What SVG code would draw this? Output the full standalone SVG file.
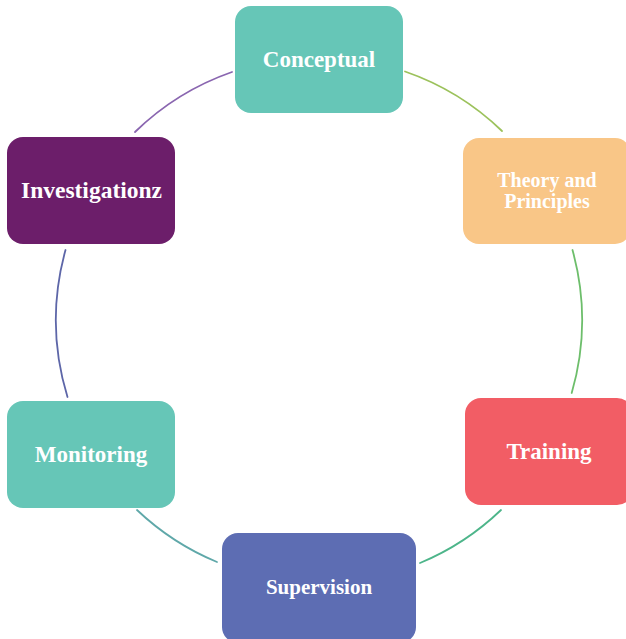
<svg xmlns="http://www.w3.org/2000/svg" width="626" height="639" viewBox="0 0 626 639">
  <style>
    .box { stroke: none; }
    .lbl { font-family: "Liberation Serif", "Times New Roman", serif; font-weight: bold; fill: #ffffff; text-anchor: middle; }
    .arc { fill: none; stroke-width: 1.8; stroke-linecap: round; }
  </style>
  <rect width="626" height="639" fill="#ffffff"/>

  <!-- ring segments between the stages (circle centre 319,320, r 263) -->
  <g id="connectors">
    <path class="arc" stroke="#9CC25C" d="M 405 71.5 A 263 263 0 0 1 502 131"/>
    <path class="arc" stroke="#6DBE6B" d="M 572.5 250 A 263 263 0 0 1 571.7 393"/>
    <path class="arc" stroke="#4DB58A" d="M 501 510 A 263 263 0 0 1 420 563"/>
    <path class="arc" stroke="#5FA8A9" d="M 217 562 A 263 263 0 0 1 137 510"/>
    <path class="arc" stroke="#5D66A8" d="M 67.5 397 A 263 263 0 0 1 65.5 250"/>
    <path class="arc" stroke="#8A66B0" d="M 135 132 A 263 263 0 0 1 232 72"/>
  </g>

  <g id="conceptual">
    <rect class="box" x="235" y="6" width="168" height="107" rx="16" fill="#66C6B7"/>
    <text class="lbl" x="319" y="67" font-size="23">Conceptual</text>
  </g>

  <g id="theory">
    <rect class="box" x="463" y="138" width="168" height="106" rx="16" fill="#F9C687"/>
    <text class="lbl" x="547" y="186.5" font-size="20">Theory and</text>
    <text class="lbl" x="547" y="208" font-size="20">Principles</text>
  </g>

  <g id="training">
    <rect class="box" x="465" y="398" width="168" height="107" rx="16" fill="#F25D65"/>
    <text class="lbl" x="549" y="459" font-size="23">Training</text>
  </g>

  <g id="supervision">
    <rect class="box" x="222" y="533" width="194" height="110" rx="16" fill="#5D6DB3"/>
    <text class="lbl" x="319" y="594" font-size="21">Supervision</text>
  </g>

  <g id="monitoring">
    <rect class="box" x="7" y="401" width="168" height="107" rx="16" fill="#66C6B7"/>
    <text class="lbl" x="91" y="462" font-size="23">Monitoring</text>
  </g>

  <g id="investigationz">
    <rect class="box" x="7" y="137" width="168" height="107" rx="16" fill="#6C1E6A"/>
    <text class="lbl" x="91.5" y="198" font-size="23.5">Investigationz</text>
  </g>
</svg>
